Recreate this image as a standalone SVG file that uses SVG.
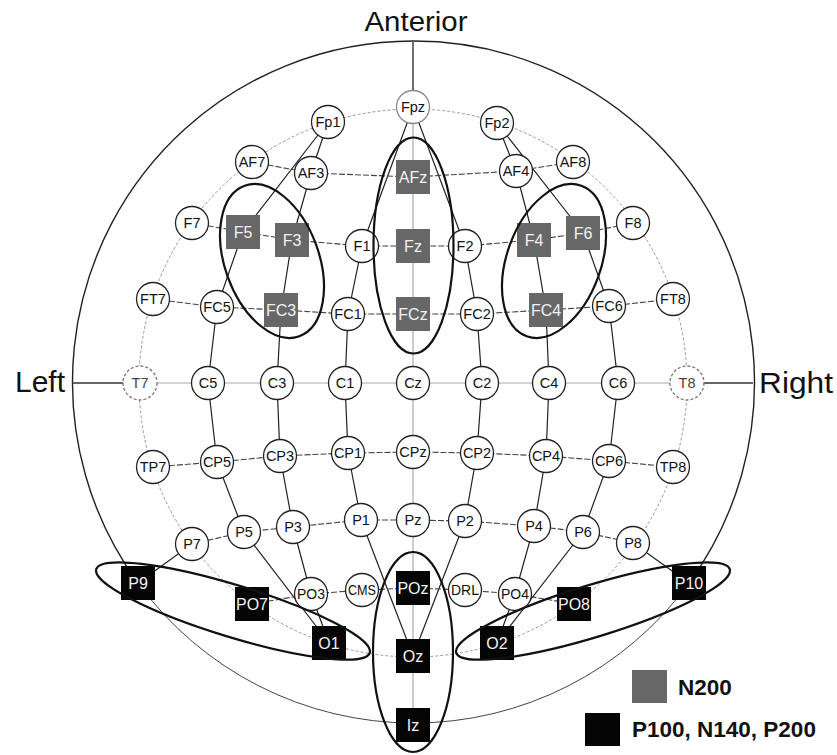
<svg xmlns="http://www.w3.org/2000/svg" width="837" height="755" viewBox="0 0 837 755">
<style>
.bg{fill:#fff}
.head{fill:none;stroke:#222;stroke-width:1.4}
.headlow{fill:none;stroke:#444;stroke-width:1}
.c1020{fill:none;stroke:#9a9a9a;stroke-width:1;stroke-dasharray:3 2}
.mer{fill:none;stroke:#222;stroke-width:1.2;stroke-linejoin:round}
.lat{fill:none;stroke:#444;stroke-width:1.1;stroke-dasharray:6 2}
.grey{fill:none;stroke:#aaa;stroke-width:1.2}
.dark{fill:none;stroke:#333;stroke-width:1.4}
.ell{fill:none;stroke:#111;stroke-width:2.2}
.n circle{fill:#fff;stroke:#222;stroke-width:1.3}
.n text{font-family:"Liberation Sans",Arial,sans-serif;font-size:14.5px;fill:#111;text-anchor:middle}
.ng circle{stroke:#888}
.nd circle{stroke:#777;stroke-dasharray:3 2}
.nd text{fill:#444}
.sg rect{fill:#676767}
.sb rect{fill:#050505}
.sg text,.sb text{font-family:"Liberation Sans",Arial,sans-serif;font-size:16px;fill:#f2f2f2;text-anchor:middle}
.lbl{font-family:"Liberation Sans",Arial,sans-serif;fill:#111}
.leg{font-family:"Liberation Sans",Arial,sans-serif;font-weight:bold;font-size:22.5px;fill:#111}
</style>
<rect class="bg" x="0" y="0" width="837" height="755"/>

<g id="connectors">
  <path class="head" d="M138 583 A341 341 0 1 1 689 583"/>
  <path class="headlow" d="M138 583 A341 341 0 0 0 689 583"/>
  <circle class="c1020" cx="413" cy="383" r="274"/>
  <line class="grey" x1="413" y1="107" x2="413" y2="725"/>
  <line class="grey" x1="140" y1="383" x2="687" y2="383"/>
  <line class="dark" x1="413" y1="42" x2="413" y2="91"/>
  <line class="dark" x1="72" y1="383" x2="124" y2="383"/>
  <line class="dark" x1="703" y1="383" x2="753" y2="383"/>
  <polyline class="mer" points="413,107 362,246 348,314 345,383 348,453 361,520 413,656"/>
  <polyline class="mer" points="328,122 311,173 292,240 281,310 277,383 280,456 293,527 311,594 329,643"/>
  <polyline class="mer" points="328,122 243,232 217,307 208,383 217,462 244,532 329,643"/>
  <polyline class="mer" points="413,107 465,246 477,314 482,383 477,453 465,521 413,656"/>
  <polyline class="mer" points="497,123 516,171 534,240 546,310 549,383 546,456 534,526 515,594 497,643"/>
  <polyline class="mer" points="497,123 583,233 609,306 618,383 609,461 583,532 497,643"/>
  <line class="mer" x1="192" y1="544" x2="138" y2="583"/>
  <line class="mer" x1="633" y1="543" x2="689" y2="583"/>
  <polyline class="lat" points="252,162 311,173 413,177 516,171 573,162"/>
  <polyline class="lat" points="192,223 243,232 292,240 362,246 413,246 465,246 534,240 583,233 633,223"/>
  <polyline class="lat" points="153,299 217,307 281,310 348,314 413,314 477,314 546,310 609,306 673,299"/>
  <polyline class="lat" points="153,467 217,462 280,456 348,453 413,452 477,453 546,456 609,461 673,467"/>
  <polyline class="lat" points="192,544 244,532 293,527 361,520 413,520 465,521 534,526 583,532 633,543"/>
  <polyline class="lat" points="252,604 311,594 362,590 413,588 465,590 515,594 574,604"/>
</g>

<g id="Fpz" class="n ng"><circle cx="413" cy="107" r="16.5"/><text x="413" y="112">Fpz</text></g>
<g id="Fp1" class="n"><circle cx="328" cy="122" r="16.5"/><text x="328" y="127">Fp1</text></g>
<g id="Fp2" class="n"><circle cx="497" cy="123" r="16.5"/><text x="497" y="128">Fp2</text></g>
<g id="AF7" class="n"><circle cx="252" cy="162" r="16.5"/><text x="252" y="167">AF7</text></g>
<g id="AF3" class="n"><circle cx="311" cy="173" r="16.5"/><text x="311" y="178">AF3</text></g>
<g id="AF4" class="n"><circle cx="516" cy="171" r="16.5"/><text x="516" y="176">AF4</text></g>
<g id="AF8" class="n"><circle cx="573" cy="162" r="16.5"/><text x="573" y="167">AF8</text></g>
<g id="F7" class="n"><circle cx="192" cy="223" r="16.5"/><text x="192" y="228">F7</text></g>
<g id="F1" class="n"><circle cx="362" cy="246" r="16.5"/><text x="362" y="251">F1</text></g>
<g id="F2" class="n"><circle cx="465" cy="246" r="16.5"/><text x="465" y="251">F2</text></g>
<g id="F8" class="n"><circle cx="633" cy="223" r="16.5"/><text x="633" y="228">F8</text></g>
<g id="FT7" class="n"><circle cx="153" cy="299" r="16.5"/><text x="153" y="304">FT7</text></g>
<g id="FC5" class="n"><circle cx="217" cy="307" r="16.5"/><text x="217" y="312">FC5</text></g>
<g id="FC1" class="n"><circle cx="348" cy="314" r="16.5"/><text x="348" y="319">FC1</text></g>
<g id="FC2" class="n"><circle cx="477" cy="314" r="16.5"/><text x="477" y="319">FC2</text></g>
<g id="FC6" class="n"><circle cx="609" cy="306" r="16.5"/><text x="609" y="311">FC6</text></g>
<g id="FT8" class="n"><circle cx="673" cy="299" r="16.5"/><text x="673" y="304">FT8</text></g>
<g id="T7" class="n nd"><circle cx="140" cy="383" r="17"/><text x="140" y="388">T7</text></g>
<g id="C5" class="n"><circle cx="208" cy="383" r="16.5"/><text x="208" y="388">C5</text></g>
<g id="C3" class="n"><circle cx="277" cy="383" r="16.5"/><text x="277" y="388">C3</text></g>
<g id="C1" class="n"><circle cx="345" cy="383" r="16.5"/><text x="345" y="388">C1</text></g>
<g id="Cz" class="n"><circle cx="413" cy="383" r="16.5"/><text x="413" y="388">Cz</text></g>
<g id="C2" class="n"><circle cx="482" cy="383" r="16.5"/><text x="482" y="388">C2</text></g>
<g id="C4" class="n"><circle cx="549" cy="383" r="16.5"/><text x="549" y="388">C4</text></g>
<g id="C6" class="n"><circle cx="618" cy="383" r="16.5"/><text x="618" y="388">C6</text></g>
<g id="T8" class="n nd"><circle cx="687" cy="383" r="17"/><text x="687" y="388">T8</text></g>
<g id="TP7" class="n"><circle cx="153" cy="467" r="16.5"/><text x="153" y="472">TP7</text></g>
<g id="CP5" class="n"><circle cx="217" cy="462" r="16.5"/><text x="217" y="467">CP5</text></g>
<g id="CP3" class="n"><circle cx="280" cy="456" r="16.5"/><text x="280" y="461">CP3</text></g>
<g id="CP1" class="n"><circle cx="348" cy="453" r="16.5"/><text x="348" y="458">CP1</text></g>
<g id="CPz" class="n"><circle cx="413" cy="452" r="16.5"/><text x="413" y="457">CPz</text></g>
<g id="CP2" class="n"><circle cx="477" cy="453" r="16.5"/><text x="477" y="458">CP2</text></g>
<g id="CP4" class="n"><circle cx="546" cy="456" r="16.5"/><text x="546" y="461">CP4</text></g>
<g id="CP6" class="n"><circle cx="609" cy="461" r="16.5"/><text x="609" y="466">CP6</text></g>
<g id="TP8" class="n"><circle cx="673" cy="467" r="16.5"/><text x="673" y="472">TP8</text></g>
<g id="P7" class="n"><circle cx="192" cy="544" r="16.5"/><text x="192" y="549">P7</text></g>
<g id="P5" class="n"><circle cx="244" cy="532" r="16.5"/><text x="244" y="537">P5</text></g>
<g id="P3" class="n"><circle cx="293" cy="527" r="16.5"/><text x="293" y="532">P3</text></g>
<g id="P1" class="n"><circle cx="361" cy="520" r="16.5"/><text x="361" y="525">P1</text></g>
<g id="Pz" class="n"><circle cx="413" cy="520" r="16.5"/><text x="413" y="525">Pz</text></g>
<g id="P2" class="n"><circle cx="465" cy="521" r="16.5"/><text x="465" y="526">P2</text></g>
<g id="P4" class="n"><circle cx="534" cy="526" r="16.5"/><text x="534" y="531">P4</text></g>
<g id="P6" class="n"><circle cx="583" cy="532" r="16.5"/><text x="583" y="537">P6</text></g>
<g id="P8" class="n"><circle cx="633" cy="543" r="16.5"/><text x="633" y="548">P8</text></g>
<g id="PO3" class="n"><circle cx="311" cy="594" r="16.5"/><text x="311" y="599" textLength="28" lengthAdjust="spacingAndGlyphs">PO3</text></g>
<g id="CMS" class="n"><circle cx="362" cy="590" r="16.5"/><text x="362" y="595" textLength="28" lengthAdjust="spacingAndGlyphs">CMS</text></g>
<g id="DRL" class="n"><circle cx="465" cy="590" r="16.5"/><text x="465" y="595" textLength="28" lengthAdjust="spacingAndGlyphs">DRL</text></g>
<g id="PO4" class="n"><circle cx="515" cy="594" r="16.5"/><text x="515" y="599" textLength="28" lengthAdjust="spacingAndGlyphs">PO4</text></g>

<g id="AFz" class="sg"><rect x="396" y="160" width="34" height="34"/><text x="413" y="182.5">AFz</text></g>
<g id="F5" class="sg"><rect x="226" y="215" width="34" height="34"/><text x="243" y="237.5">F5</text></g>
<g id="F3" class="sg"><rect x="275" y="223" width="34" height="34"/><text x="292" y="245.5">F3</text></g>
<g id="Fz" class="sg"><rect x="396" y="229" width="34" height="34"/><text x="413" y="251.5">Fz</text></g>
<g id="F4" class="sg"><rect x="517" y="223" width="34" height="34"/><text x="534" y="245.5">F4</text></g>
<g id="F6" class="sg"><rect x="566" y="216" width="34" height="34"/><text x="583" y="238.5">F6</text></g>
<g id="FC3" class="sg"><rect x="264" y="293" width="34" height="34"/><text x="281" y="315.5">FC3</text></g>
<g id="FCz" class="sg"><rect x="396" y="297" width="34" height="34"/><text x="413" y="319.5">FCz</text></g>
<g id="FC4" class="sg"><rect x="529" y="293" width="34" height="34"/><text x="546" y="315.5">FC4</text></g>

<g id="P9" class="sb"><rect x="121" y="566" width="34" height="34"/><text x="138" y="588.5">P9</text></g>
<g id="PO7" class="sb"><rect x="235" y="587" width="34" height="34"/><text x="252" y="609.5">PO7</text></g>
<g id="POz" class="sb"><rect x="396" y="571" width="34" height="34"/><text x="413" y="593.5">POz</text></g>
<g id="PO8" class="sb"><rect x="557" y="587" width="34" height="34"/><text x="574" y="609.5">PO8</text></g>
<g id="P10" class="sb"><rect x="672" y="566" width="34" height="34"/><text x="689" y="588.5">P10</text></g>
<g id="O1" class="sb"><rect x="312" y="626" width="34" height="34"/><text x="329" y="648.5">O1</text></g>
<g id="Oz" class="sb"><rect x="396" y="639" width="34" height="34"/><text x="413" y="661.5">Oz</text></g>
<g id="O2" class="sb"><rect x="480" y="626" width="34" height="34"/><text x="497" y="648.5">O2</text></g>
<g id="Iz" class="sb"><rect x="396" y="708" width="34" height="34"/><text x="413" y="730.5">Iz</text></g>

<g id="regions">
  <ellipse class="ell" cx="272" cy="261" rx="47" ry="80" transform="rotate(-20 272 261)"/>
  <ellipse class="ell" cx="554" cy="261" rx="47" ry="80" transform="rotate(20 554 261)"/>
  <ellipse class="ell" cx="413.5" cy="245.5" rx="40" ry="108"/>
  <ellipse class="ell" cx="413" cy="652" rx="40" ry="100"/>
  <ellipse class="ell" cx="233" cy="611" rx="143" ry="26" transform="rotate(17 233 611)"/>
  <ellipse class="ell" cx="593" cy="611" rx="143" ry="26" transform="rotate(-17 593 611)"/>
</g>

<g id="labels">
  <text class="lbl" x="416" y="31" font-size="27" text-anchor="middle" textLength="103" lengthAdjust="spacingAndGlyphs">Anterior</text>
  <text class="lbl" x="15" y="392" font-size="29.5" textLength="50" lengthAdjust="spacingAndGlyphs">Left</text>
  <text class="lbl" x="759" y="393" font-size="29.5" textLength="74" lengthAdjust="spacingAndGlyphs">Right</text>
</g>

<g id="legend">
  <rect x="632" y="670" width="35" height="33" fill="#676767"/>
  <text class="leg" x="678" y="695">N200</text>
  <rect x="585" y="713" width="35" height="33" fill="#050505"/>
  <text class="leg" x="632" y="737">P100, N140, P200</text>
</g>
</svg>
